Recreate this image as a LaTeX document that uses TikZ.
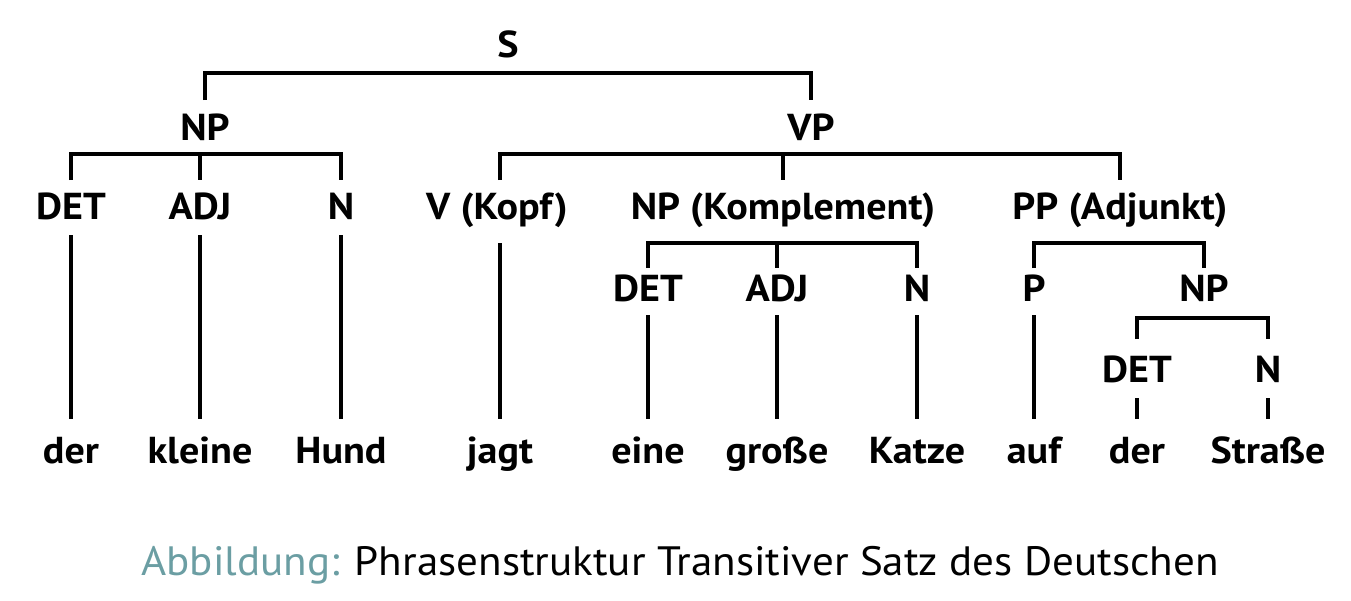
\documentclass[tikz,border=0pt]{standalone}
\usepackage{fontspec}
\setmainfont{PT Sans}[FakeStretch=1.05]
\newfontfamily\lblfont{PT Sans}[FakeStretch=1.07]
\definecolor{capteal}{RGB}{107,158,163}
\begin{document}
\begin{tikzpicture}[x=1pt,y=-1pt,
  lbl/.style={font=\lblfont\bfseries\fontsize{37.5}{40}\selectfont, inner sep=0pt, anchor=base},
  ln/.style={line width=4.5pt, line join=miter, line cap=butt}]
\useasboundingbox (0,0) rectangle (1351,600);
% labels
\node[lbl] (S) at (508,57) {S};
\node[lbl] (NP) at (205,140) {NP};
\node[lbl] (VP) at (811,140) {VP};
\node[lbl] (det1) at (71,219) {DET};
\node[lbl] (adj1) at (200,219) {ADJ};
\node[lbl] (n1) at (341,219) {N};
\node[lbl] (v) at (497,219) {V (Kopf)};
\node[lbl] (npk) at (783,219) {NP (Komplement)};
\node[lbl] (pp) at (1120,219) {PP (Adjunkt)};
\node[lbl] (det2) at (648,301) {DET};
\node[lbl] (adj2) at (777,301) {ADJ};
\node[lbl] (n2) at (917,301) {N};
\node[lbl] (p) at (1034,301) {P};
\node[lbl] (np3) at (1204,301) {NP};
\node[lbl] (det3) at (1137,382) {DET};
\node[lbl] (n3) at (1268,382) {N};
\node[lbl] (w1) at (71,463) {der};
\node[lbl] (w2) at (200,463) {kleine};
\node[lbl] (w3) at (341,463) {Hund};
\node[lbl] (w4) at (500,463) {jagt};
\node[lbl] (w5) at (648,463) {eine};
\node[lbl] (w6) at (777,463) {große};
\node[lbl] (w7) at (917,463) {Katze};
\node[lbl] (w8) at (1034,463) {auf};
\node[lbl] (w9) at (1137,463) {der};
\node[lbl] (w10) at (1268,463) {Straße};
\node[anchor=base, inner sep=0pt, font=\fontsize{41}{44}\selectfont] (cap) at (680,575)
  {\textcolor{capteal}{Abbildung:} Phrasenstruktur Transitiver Satz des Deutschen};
% bracket coordinates
\coordinate (sL) at (205,100); \coordinate (sR) at (811,100); \coordinate (sB) at (0,73);
\coordinate (npA) at (71,180); \coordinate (npB) at (200,180); \coordinate (npC) at (341,180); \coordinate (npY) at (0,154);
\coordinate (vpA) at (500,180); \coordinate (vpB) at (783,180); \coordinate (vpC) at (1120,180);
\coordinate (nkA) at (648,268); \coordinate (nkB) at (777,268); \coordinate (nkC) at (917,268); \coordinate (nkY) at (0,243);
\coordinate (ppA) at (1034,268); \coordinate (ppC) at (1204,268);
\coordinate (n3A) at (1137,339); \coordinate (n3C) at (1268,339); \coordinate (n3Y) at (0,318);
% brackets
\draw[ln] (sL) -- (sL |- sB) -- (sR |- sB) -- (sR);
\draw[ln] (npA) -- (npA |- npY) -- (npC |- npY) -- (npC);
\draw[ln] (npB |- npY) -- (npB);
\draw[ln] (vpA) -- (vpA |- npY) -- (vpC |- npY) -- (vpC);
\draw[ln] (vpB |- npY) -- (vpB);
\draw[ln] (nkA) -- (nkA |- nkY) -- (nkC |- nkY) -- (nkC);
\draw[ln] (nkB |- nkY) -- (nkB);
\draw[ln] (ppA) -- (ppA |- nkY) -- (ppC |- nkY) -- (ppC);
\draw[ln] (n3A) -- (n3A |- n3Y) -- (n3C |- n3Y) -- (n3C);
% leaf lines
\draw[ln] (det1.south |- 0,235) -- (det1.south |- 0,419);
\draw[ln] (adj1.south |- 0,235) -- (adj1.south |- 0,419);
\draw[ln] (n1.south |- 0,235) -- (n1.south |- 0,419);
\draw[ln] (w4.north |- 0,243) -- (w4.north |- 0,419);
\draw[ln] (det2.south |- 0,315) -- (det2.south |- 0,419);
\draw[ln] (adj2.south |- 0,315) -- (adj2.south |- 0,419);
\draw[ln] (n2.south |- 0,315) -- (n2.south |- 0,419);
\draw[ln] (p.south |- 0,315) -- (p.south |- 0,419);
\draw[ln] (det3.south |- 0,398) -- (det3.south |- 0,419);
\draw[ln] (n3.south |- 0,398) -- (n3.south |- 0,419);
\end{tikzpicture}
\end{document}
